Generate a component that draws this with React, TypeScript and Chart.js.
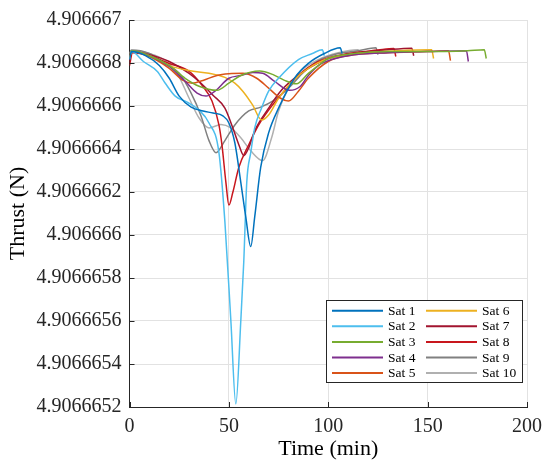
import React, { useEffect, useRef } from "react";
import { Chart, registerables } from "chart.js";

Chart.register(...registerables);

const FONT = '"Liberation Serif", "Times New Roman", Times, serif';
const AXIS_COLOR = "#262626";
const GRID_COLOR = "#e2e2e2";

const satLabels = ["Sat 1", "Sat 2", "Sat 3", "Sat 4", "Sat 5", "Sat 6", "Sat 7", "Sat 8", "Sat 9", "Sat 10"];
const satColors = ["#0072BD", "#4DBEEE", "#77AC30", "#7E2F8E", "#D95319", "#EDB120", "#A2142F", "#C8161D", "#808080", "#B0B0B0"];

const sat1Time = [0, 1, 8, 15, 20, 25, 31, 37, 42, 47, 50, 53, 56, 58.5, 61, 63, 66, 70, 75, 83, 90, 98, 106, 107];
const sat1Thrust = [4.906666816, 4.906666853, 4.906666834, 4.906666788, 4.906666729, 4.906666646, 4.906666595, 4.906666577, 4.906666567, 4.906666554, 4.906666521, 4.906666429, 4.906666245, 4.906666084, 4.906665946, 4.906666084, 4.906666314, 4.906666475, 4.90666659, 4.906666729, 4.906666798, 4.906666844, 4.906666871, 4.906666844];

const sat2Time = [0, 1, 7, 14, 18, 23, 29, 35, 40, 45, 48, 51, 53.5, 56, 57.5, 59, 61, 63, 66.4, 70, 75, 85, 92, 97, 98];
const sat2Thrust = [4.906666816, 4.906666853, 4.906666807, 4.906666761, 4.906666706, 4.906666646, 4.906666618, 4.906666581, 4.906666521, 4.906666383, 4.906666061, 4.906665601, 4.906665214, 4.906665601, 4.906665877, 4.906666245, 4.906666383, 4.906666498, 4.90666659, 4.906666669, 4.906666729, 4.906666816, 4.906666844, 4.906666862, 4.906666834];

const sat3Time = [0, 1, 10, 20, 28, 35, 44, 50, 56, 65.5, 72, 78, 84, 90, 95, 100, 113, 130, 146, 170, 178.5, 179.5];
const sat3Thrust = [4.906666821, 4.906666857, 4.906666834, 4.906666788, 4.906666729, 4.906666692, 4.906666673, 4.906666706, 4.906666742, 4.906666763, 4.906666747, 4.906666719, 4.906666703, 4.906666752, 4.906666788, 4.906666821, 4.906666844, 4.906666853, 4.906666853, 4.906666857, 4.906666862, 4.906666821];

const sat4Time = [0, 1, 10, 20, 28, 34, 38.5, 43, 50, 56, 62, 67, 73, 80.5, 86, 90, 95, 100, 110, 130, 150, 169.5, 170.5];
const sat4Thrust = [4.906666821, 4.906666853, 4.906666834, 4.906666784, 4.906666715, 4.90666666, 4.906666646, 4.906666669, 4.906666729, 4.906666742, 4.906666756, 4.906666752, 4.906666715, 4.906666673, 4.906666692, 4.906666742, 4.906666788, 4.906666811, 4.906666834, 4.906666848, 4.906666853, 4.906666857, 4.906666807];

const sat5Time = [0, 1, 10, 20, 27, 31.5, 37, 44, 50, 57, 64, 70, 76, 80, 85, 90, 100, 110, 130, 150, 160.5, 161.5];
const sat5Thrust = [4.906666821, 4.906666853, 4.90666683, 4.906666775, 4.906666719, 4.906666706, 4.906666719, 4.906666742, 4.90666675, 4.906666752, 4.906666729, 4.906666683, 4.906666636, 4.906666623, 4.906666669, 4.906666729, 4.906666807, 4.906666834, 4.906666848, 4.906666853, 4.906666857, 4.906666811];

const sat6Time = [0, 1, 10, 20, 30, 40, 48, 53, 57, 62, 66.4, 70, 75, 82, 90, 100, 115, 135, 152, 153];
const sat6Thrust = [4.906666821, 4.906666853, 4.906666834, 4.906666788, 4.906666765, 4.906666752, 4.906666733, 4.906666706, 4.906666669, 4.906666604, 4.906666535, 4.906666558, 4.906666636, 4.906666715, 4.906666775, 4.906666821, 4.906666844, 4.906666857, 4.906666862, 4.906666821];

const sat7Time = [0, 1, 10, 20, 30, 36, 42, 48, 52, 55, 57.5, 60, 63, 70, 76, 83, 90, 100, 115, 130, 142, 143];
const sat7Thrust = [4.906666807, 4.906666853, 4.906666839, 4.906666807, 4.906666752, 4.906666706, 4.90666665, 4.90666659, 4.906666498, 4.90666642, 4.906666369, 4.906666406, 4.906666485, 4.90666659, 4.906666669, 4.906666729, 4.906666775, 4.906666821, 4.906666848, 4.906666862, 4.906666869, 4.906666834];

const sat8Time = [0, 1.5, 10, 20, 30, 36.5, 41.5, 45, 46.5, 48.5, 50, 52, 55, 60, 65, 70, 76, 85, 95, 110, 125, 133, 134];
const sat8Thrust = [4.906666788, 4.906666848, 4.906666834, 4.906666798, 4.906666761, 4.906666696, 4.906666623, 4.906666512, 4.90666642, 4.906666245, 4.906666139, 4.906666199, 4.906666314, 4.90666642, 4.906666512, 4.906666581, 4.90666665, 4.906666742, 4.906666807, 4.906666844, 4.90666686, 4.906666867, 4.90666683];

const sat9Time = [0, 1, 10, 18, 25, 31, 36, 40, 43.5, 48, 53, 60, 66, 72, 80, 88, 95, 105, 115, 124, 125];
const sat9Thrust = [4.906666844, 4.90666686, 4.906666844, 4.906666798, 4.906666752, 4.90666666, 4.906666554, 4.906666439, 4.906666383, 4.906666439, 4.906666512, 4.906666577, 4.906666595, 4.906666623, 4.906666683, 4.906666761, 4.906666811, 4.906666844, 4.906666857, 4.906666871, 4.906666839];

const sat10Time = [0, 1, 10, 18, 24, 30, 35, 40, 46, 51, 56, 61, 67, 71.5, 75, 80, 86, 95, 105, 115, 116];
const sat10Thrust = [4.906666844, 4.906666857, 4.906666844, 4.906666811, 4.906666752, 4.906666636, 4.906666544, 4.906666498, 4.906666514, 4.906666498, 4.906666452, 4.906666392, 4.906666346, 4.906666452, 4.906666577, 4.906666683, 4.906666761, 4.906666816, 4.906666848, 4.906666862, 4.906666844];

const satTimes = [sat1Time, sat2Time, sat3Time, sat4Time, sat5Time, sat6Time, sat7Time, sat8Time, sat9Time, sat10Time];
const satThrusts = [sat1Thrust, sat2Thrust, sat3Thrust, sat4Thrust, sat5Thrust, sat6Thrust, sat7Thrust, sat8Thrust, sat9Thrust, sat10Thrust];

const xTickValues = [0, 50, 100, 150, 200];
const yTickValues = [4.9066652, 4.9066654, 4.9066656, 4.9066658, 4.906666, 4.9066662, 4.9066664, 4.9066666, 4.9066668, 4.906667];
const yTickLabels = ["4.9066652", "4.9066654", "4.9066656", "4.9066658", "4.906666", "4.9066662", "4.9066664", "4.9066666", "4.9066668", "4.906667"];

const inwardTicks = {
  id: "inwardTicks",
  afterDatasetsDraw(chart: any) {
    const { ctx, chartArea, scales } = chart;
    ctx.save();
    ctx.strokeStyle = AXIS_COLOR;
    ctx.lineWidth = 1;
    ctx.beginPath();
    for (const v of yTickValues) {
      const y = Math.round(scales.y.getPixelForValue(v)) + 0.5;
      ctx.moveTo(chartArea.left, y);
      ctx.lineTo(chartArea.left + 5, y);
    }
    for (const v of xTickValues) {
      const x = Math.round(scales.x.getPixelForValue(v)) + 0.5;
      ctx.moveTo(x, chartArea.bottom);
      ctx.lineTo(x, chartArea.bottom - 5);
    }
    ctx.stroke();
    ctx.restore();
  },
};

const boxLegend = {
  id: "boxLegend",
  afterDraw(chart: any) {
    const { ctx, chartArea } = chart;
    const w = 196;
    const h = 82;
    const x0 = Math.round(chartArea.right - 5 - w);
    const y0 = Math.round(chartArea.bottom - 25 - h);
    ctx.save();
    ctx.fillStyle = "#ffffff";
    ctx.fillRect(x0, y0, w, h);
    ctx.strokeStyle = AXIS_COLOR;
    ctx.lineWidth = 1;
    ctx.strokeRect(x0 + 0.5, y0 + 0.5, w, h);
    ctx.font = `13.5px ${FONT}`;
    ctx.textBaseline = "middle";
    ctx.textAlign = "left";
    chart.data.datasets.forEach((ds: any, i: number) => {
      const col = Math.floor(i / 5);
      const row = i % 5;
      const cy = y0 + 10.7 + row * 15.6;
      const lx = x0 + 6 + col * 94;
      ctx.strokeStyle = ds.borderColor;
      ctx.lineWidth = 2;
      ctx.beginPath();
      ctx.moveTo(lx, cy);
      ctx.lineTo(lx + 51, cy);
      ctx.stroke();
      ctx.fillStyle = "#000000";
      ctx.fillText(ds.label, lx + 56, cy + 0.5);
    });
    ctx.restore();
  },
};

export default function App() {
  const ref = useRef<HTMLCanvasElement>(null);

  useEffect(() => {
    if (!ref.current) return;
    const datasets = satLabels.map((label, i) => ({
      label,
      data: satTimes[i].map((t, j) => ({ x: t, y: satThrusts[i][j] })),
      borderColor: satColors[i],
      backgroundColor: satColors[i],
      borderWidth: 1.5,
      pointRadius: 0,
      pointHoverRadius: 0,
      cubicInterpolationMode: "monotone" as const,
      fill: false,
    }));
    const chart = new Chart(ref.current, {
      type: "line",
      data: { datasets },
      plugins: [inwardTicks, boxLegend],
      options: {
        animation: false,
        responsive: false,
        maintainAspectRatio: false,
        layout: { padding: { left: 0, top: 16, right: 18, bottom: 0 } },
        plugins: {
          legend: { display: false },
          tooltip: { enabled: false },
        },
        scales: {
          x: {
            type: "linear",
            min: 0,
            max: 200,
            afterBuildTicks: (s: any) => {
              s.ticks = xTickValues.map((v) => ({ value: v }));
            },
            afterFit: (s: any) => {
              s.height = 63;
            },
            ticks: {
              padding: 8,
              color: AXIS_COLOR,
              font: { family: FONT, size: 20 },
              maxRotation: 0,
            },
            grid: { color: GRID_COLOR, drawTicks: false, lineWidth: 1 },
            border: { display: true, color: AXIS_COLOR, width: 1 },
            title: {
              display: true,
              text: "Time (min)",
              color: "#000000",
              font: { family: FONT, size: 22 },
              padding: { top: 0, bottom: 8 },
            },
          },
          y: {
            type: "linear",
            min: 4.9066652,
            max: 4.906667,
            afterBuildTicks: (s: any) => {
              s.ticks = yTickValues.map((v) => ({ value: v }));
            },
            afterFit: (s: any) => {
              s.width = 129.5;
            },
            ticks: {
              padding: 8,
              color: AXIS_COLOR,
              font: { family: FONT, size: 20 },
              callback: (_v: any, index: number) => yTickLabels[index],
            },
            grid: { color: GRID_COLOR, drawTicks: false, lineWidth: 1 },
            border: { display: true, color: AXIS_COLOR, width: 1 },
            title: {
              display: true,
              text: "Thrust (N)",
              color: "#000000",
              font: { family: FONT, size: 22 },
              padding: { top: 5, bottom: 0 },
            },
          },
        },
      },
    });
    return () => chart.destroy();
  }, []);

  return (
    <div style={{ position: "fixed", left: 0, top: 0, width: 550, height: 470, background: "#ffffff" }}>
      <canvas ref={ref} width={550} height={470} style={{ display: "block", width: 550, height: 470 }} />
    </div>
  );
}
